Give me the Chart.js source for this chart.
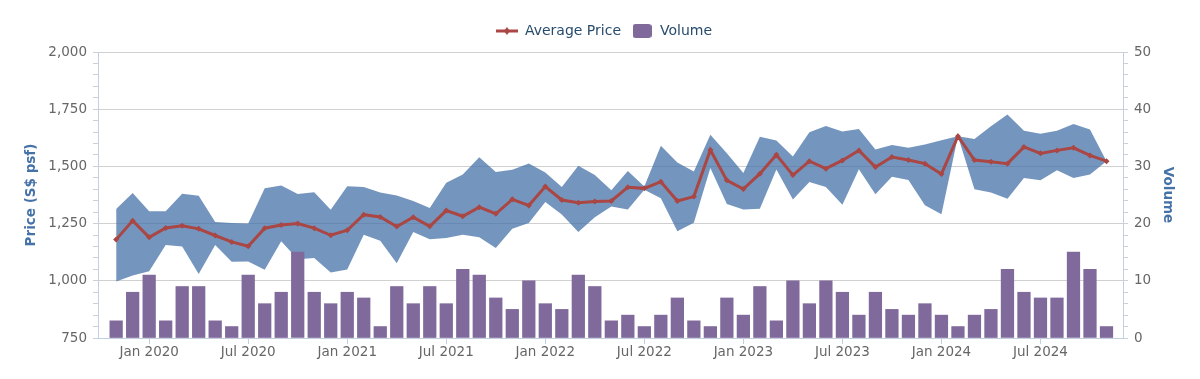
<!DOCTYPE html>
<html>
<head>
<meta charset="utf-8">
<script src="https://cdn.jsdelivr.net/npm/chart.js@4.4.1/dist/chart.umd.min.js"></script>
<style>
  html, body { margin: 0; padding: 0; background: #ffffff; }
  #wrap { width: 1200px; height: 379px; position: relative; }
</style>
</head>
<body>
<div id="wrap"><canvas id="c" width="1200" height="379"></canvas></div>
<script>
// ---- Data ----
const months = [
  'Nov 2019','Dec 2019',
  'Jan 2020','Feb 2020','Mar 2020','Apr 2020','May 2020','Jun 2020','Jul 2020','Aug 2020','Sep 2020','Oct 2020','Nov 2020','Dec 2020',
  'Jan 2021','Feb 2021','Mar 2021','Apr 2021','May 2021','Jun 2021','Jul 2021','Aug 2021','Sep 2021','Oct 2021','Nov 2021','Dec 2021',
  'Jan 2022','Feb 2022','Mar 2022','Apr 2022','May 2022','Jun 2022','Jul 2022','Aug 2022','Sep 2022','Oct 2022','Nov 2022','Dec 2022',
  'Jan 2023','Feb 2023','Mar 2023','Apr 2023','May 2023','Jun 2023','Jul 2023','Aug 2023','Sep 2023','Oct 2023','Nov 2023','Dec 2023',
  'Jan 2024','Feb 2024','Mar 2024','Apr 2024','May 2024','Jun 2024','Jul 2024','Aug 2024','Sep 2024','Oct 2024','Nov 2024'
];

const avgPrice = [
  1180, 1263,
  1190, 1231, 1241, 1227, 1198, 1170, 1151, 1230, 1244, 1250, 1230, 1199,
  1221, 1289, 1279, 1237, 1278, 1238, 1307, 1282, 1322, 1293, 1356, 1329,
  1412, 1353, 1341, 1347, 1349, 1409, 1404, 1433, 1349, 1368, 1572, 1439,
  1401, 1468, 1551, 1462, 1523, 1490, 1526, 1570, 1497, 1541, 1528, 1512,
  1467, 1632, 1528, 1520, 1512, 1585, 1557, 1570, 1581, 1548, 1523
];

const highPrice = [
  1314, 1384,
  1304, 1304, 1381, 1372, 1257, 1253, 1250, 1404, 1416, 1379, 1387, 1311,
  1413, 1410, 1386, 1373, 1349, 1318, 1429, 1465, 1540, 1476, 1485, 1513,
  1473, 1410, 1503, 1462, 1396, 1480, 1412, 1590, 1517, 1478, 1638, 1558,
  1471, 1630, 1613, 1543, 1649, 1677, 1652, 1664, 1574, 1593, 1581, 1596,
  1614, 1632, 1620, 1675, 1727, 1656, 1643, 1656, 1685, 1661, 1523
];

const lowPrice = [
  997, 1023,
  1042, 1156, 1150, 1030, 1156, 1083, 1084, 1048, 1173, 1094, 1100, 1036,
  1049, 1201, 1175, 1077, 1213, 1182, 1187, 1201, 1190, 1143, 1228, 1253,
  1344, 1290, 1213, 1278, 1325, 1312, 1398, 1361, 1217, 1254, 1493, 1336,
  1312, 1315, 1486, 1355, 1432, 1410, 1332, 1488, 1378, 1455, 1441, 1330,
  1291, 1632, 1400, 1386, 1359, 1449, 1439, 1483, 1449, 1465, 1523
];

const volume = [
  3, 8,
  11, 3, 9, 9, 3, 2, 11, 6, 8, 15, 8, 6,
  8, 7, 2, 9, 6, 9, 6, 12, 11, 7, 5, 10,
  6, 5, 11, 9, 3, 4, 2, 4, 7, 3, 2, 7,
  4, 9, 3, 10, 6, 10, 8, 4, 8, 5, 4, 6,
  4, 2, 4, 5, 12, 8, 7, 7, 15, 12, 2
];

const xTickLabels = ['Jan 2020','Jul 2020','Jan 2021','Jul 2021','Jan 2022','Jul 2022','Jan 2023','Jul 2023','Jan 2024','Jul 2024'];
const priceTicks = [750, 1000, 1250, 1500, 1750, 2000];
const volumeTicks = [0, 10, 20, 30, 40, 50];

// ---- Build series points from the arrays ----
const pts = arr => arr.map((v, i) => ({ x: i, y: v }));
const xTickIndex = xTickLabels.map(l => months.indexOf(l));

// ---- Legend symbols ----
function makeLineSymbol() {
  const c = document.createElement('canvas');
  c.width = 22; c.height = 10;
  const g = c.getContext('2d');
  g.strokeStyle = '#AA4643'; g.lineWidth = 3;
  g.beginPath(); g.moveTo(0, 5); g.lineTo(22, 5); g.stroke();
  g.fillStyle = '#AA4643';
  g.beginPath(); g.moveTo(11, 1); g.lineTo(14, 5); g.lineTo(11, 9); g.lineTo(8, 5); g.closePath(); g.fill();
  return c;
}
function makeBarSymbol() {
  const c = document.createElement('canvas');
  c.width = 19; c.height = 14;
  const g = c.getContext('2d');
  g.fillStyle = '#80699B';
  g.beginPath();
  if (g.roundRect) g.roundRect(0, 0, 19, 14, 3); else g.rect(0, 0, 19, 14);
  g.fill();
  return c;
}
const lineSym = makeLineSymbol();
const barSym = makeBarSymbol();

Chart.defaults.font.family = '"DejaVu Sans", Verdana, sans-serif';
Chart.defaults.color = '#666666';

const PAD_LEFT = 8;
const PLOT_LEFT = 98, PLOT_RIGHT = 1123, PLOT_BOTTOM = 338;

// extra space below the legend
const legendSpacer = {
  id: 'legendSpacer',
  beforeInit(chart) {
    const lg = chart.legend;
    const origFit = lg.fit;
    lg.fit = function () { origFit.call(this); this.height += 4; };
  }
};

new Chart(document.getElementById('c'), {
  data: {
    datasets: [
      {
        type: 'line', label: 'Average Price', data: pts(avgPrice), yAxisID: 'y', order: 0,
        borderColor: '#AA4643', backgroundColor: '#AA4643', borderWidth: 3,
        pointStyle: 'rectRot', pointRadius: 3, pointBorderWidth: 0, pointBackgroundColor: '#AA4643',
        tension: 0, fill: false
      },
      {
        type: 'bar', label: 'Volume', data: pts(volume), yAxisID: 'y1', order: 1,
        backgroundColor: '#80699B', borderWidth: 0, barThickness: 12.6
      },
      {
        type: 'line', label: 'High', data: pts(highPrice), yAxisID: 'y', order: 2,
        borderColor: 'rgba(0,0,0,0)', pointRadius: 0, tension: 0, fill: false
      },
      {
        type: 'line', label: 'Low', data: pts(lowPrice), yAxisID: 'y', order: 2,
        borderColor: 'rgba(0,0,0,0)', pointRadius: 0, tension: 0,
        fill: '-1', backgroundColor: 'rgba(69,114,167,0.75)'
      }
    ]
  },
  plugins: [legendSpacer],
  options: {
    responsive: false,
    animation: false,
    events: [],
    layout: { padding: { top: 14, left: PAD_LEFT, right: 0, bottom: 0 } },
    plugins: {
      tooltip: { enabled: false },
      legend: {
        position: 'top',
        align: 'center',
        labels: {
          usePointStyle: true,
          pointStyleWidth: 22,
          padding: 10,
          color: '#274b6d',
          font: { size: 14 },
          filter: item => item.text === 'Average Price' || item.text === 'Volume',
          generateLabels(chart) {
            const items = Chart.defaults.plugins.legend.labels.generateLabels(chart);
            items.forEach(it => {
              if (it.text === 'Average Price') it.pointStyle = lineSym;
              if (it.text === 'Volume') it.pointStyle = barSym;
            });
            return items;
          }
        }
      }
    },
    scales: {
      x: {
        type: 'linear',
        offset: false,
        min: -1.1, max: 61.0,
        afterBuildTicks: s => { s.ticks = xTickIndex.map(v => ({ value: v })); },
        afterFit: s => { s.height = 379 - PLOT_BOTTOM; },
        ticks: {
          autoSkip: false, maxRotation: 0, padding: 0,
          font: { size: 13.5 }, color: '#666666',
          callback: v => { const k = xTickIndex.indexOf(v); return k >= 0 ? xTickLabels[k] : ''; }
        },
        grid: { offset: false, drawOnChartArea: false, drawTicks: true, tickLength: 6, tickColor: '#C0D0E0', lineWidth: 1 },
        border: { color: '#C0D0E0', width: 1 }
      },
      y: {
        type: 'linear', position: 'left',
        min: priceTicks[0], max: priceTicks[priceTicks.length - 1],
        afterFit: s => { s.width = PLOT_LEFT - PAD_LEFT; },
        ticks: {
          stepSize: 50, autoSkip: false, padding: 6,
          font: { size: 13.5 }, color: '#666666',
          callback: v => priceTicks.includes(v) ? v.toLocaleString('en-US') : ''
        },
        grid: {
          color: ctx => (ctx.tick && priceTicks.includes(ctx.tick.value)) ? '#D0D0D0' : 'rgba(0,0,0,0)',
          tickColor: '#C8D2DC', tickLength: 5, lineWidth: 1
        },
        border: { color: '#C0D0E0', width: 1 },
        title: {
          display: true, text: 'Price (S$ psf)', color: '#4572A7',
          font: { size: 13.5, weight: 'bold' }, padding: { top: 23 - PAD_LEFT, bottom: 0 }
        }
      },
      y1: {
        type: 'linear', position: 'right',
        min: volumeTicks[0], max: volumeTicks[volumeTicks.length - 1],
        afterFit: s => { s.width = 1200 - PLOT_RIGHT; },
        ticks: {
          stepSize: 2, autoSkip: false, padding: 6,
          font: { size: 13.5 }, color: '#666666',
          callback: v => volumeTicks.includes(v) ? String(v) : ''
        },
        grid: { drawOnChartArea: false, tickColor: '#C8D2DC', tickLength: 5, lineWidth: 1 },
        border: { color: '#C0D0E0', width: 1 },
        title: {
          display: true, text: 'Volume', color: '#4572A7',
          font: { size: 13.5, weight: 'bold' }, padding: { top: 24, bottom: 0 }
        }
      }
    }
  }
});
</script>
</body>
</html>
